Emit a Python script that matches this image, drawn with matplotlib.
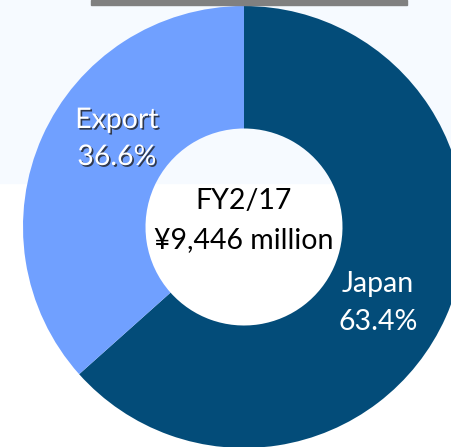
# Net sales breakdown donut, FY2/17

import matplotlib.pyplot as plt
import matplotlib.patheffects as pe
from matplotlib.patches import Rectangle

regions = ["Japan", "Export"]
shares = [63.4, 36.6]
colors = ["#034c79", "#70a0ff"]
period = "FY2/17"
total_sales = 9446  # million yen

W, H = 452, 447


def main():
    fig = plt.figure(figsize=(W / 100, H / 100), dpi=100, facecolor="white")
    ax = fig.add_axes([0, 0, 1, 1])
    ax.set_axis_off()

    # slide background band and title bar remnant
    ax.add_patch(Rectangle((0, H - 183), W, 183, color="#f6faff", zorder=0))
    ax.add_patch(Rectangle((91, H - 5), 316, 5, color="#808080", zorder=3))

    cx, cy, r, hole = 244, H - 227, 221, 98.5
    ax.pie(shares, colors=colors, startangle=90, counterclock=False,
           center=(cx, cy), radius=r, frame=True,
           wedgeprops=dict(width=r - hole, linewidth=0))

    font = "Lato"
    size = 20.5
    shadow = [pe.withSimplePatchShadow(offset=(1.2, -1.2), shadow_rgbFace="#202020", alpha=0.8)]

    # Export label (with shadow)
    ax.text(117, H - 120, regions[1], ha="center", va="center", color="white",
            fontsize=size, family=font, path_effects=shadow, zorder=4)
    ax.text(117, H - 157, f"{shares[1]:.1f}%", ha="center", va="center", color="white",
            fontsize=size, family=font, path_effects=shadow, zorder=4)

    # Japan label
    ax.text(378, H - 284, regions[0], ha="center", va="center", color="white",
            fontsize=size, family=font, zorder=4)
    ax.text(378, H - 322, f"{shares[0]:.1f}%", ha="center", va="center", color="white",
            fontsize=size, family=font, zorder=4)

    # centre text
    ax.text(cx, H - 201, period, ha="center", va="center", color="black",
            fontsize=size, family=font, zorder=4)
    ax.text(cx, H - 240, f"¥{total_sales:,} million", ha="center", va="center",
            color="black", fontsize=size, family=font, zorder=4)

    ax.set_xlim(0, W)
    ax.set_ylim(0, H)
    ax.set_aspect("auto")

    fig.savefig("out.png", dpi=100, facecolor="white")


main()
